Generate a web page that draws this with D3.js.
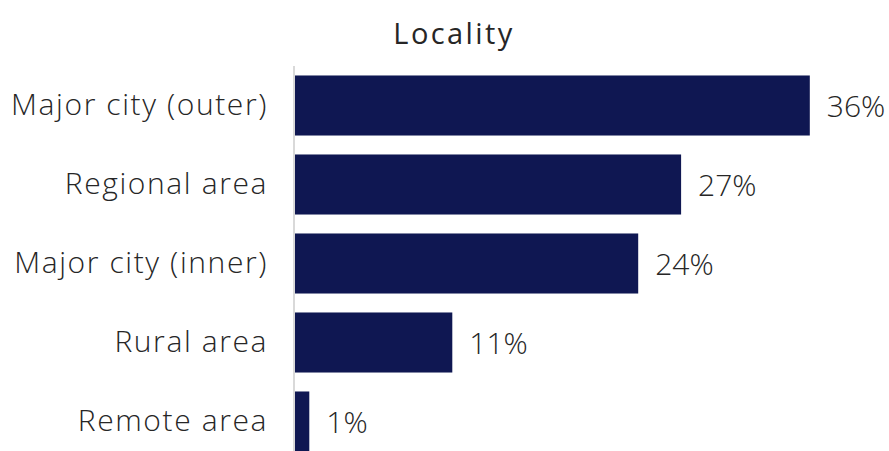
<!DOCTYPE html>
<html>
<head>
<meta charset="utf-8">
<script src="https://cdn.jsdelivr.net/npm/d3@7"></script>
<style>
  html, body { margin: 0; padding: 0; background: #ffffff; }
  svg { display: block; }
  text { font-family: "Open Sans", Lato, sans-serif; fill: #262626; }
</style>
</head>
<body>
<svg id="chart" width="889" height="451"></svg>
<script>
// Share of respondents by locality (%)
const categories = ["Major city (outer)", "Regional area", "Major city (inner)", "Rural area", "Remote area"];
const values = [36, 27, 24, 11, 1];
const valueLabels = ["36%", "27%", "24%", "11%", "1%"];
const title = "Locality";

const width = 889, height = 451;
const margin = { top: 66, left: 295 };

const svg = d3.select("#chart");

const x = d3.scaleLinear()
  .domain([0, 40])
  .range([margin.left, margin.left + 572]);

const y = d3.scaleBand()
  .domain(categories)
  .range([margin.top, margin.top + 395])
  .paddingInner(0.24)
  .paddingOuter(0.12);

// Title
svg.append("text")
  .attr("x", 454)
  .attr("y", 32)
  .attr("text-anchor", "middle")
  .attr("dominant-baseline", "central")
  .style("font-size", "29px")
  .style("font-weight", 400)
  .style("letter-spacing", "2.4px")
  .text(title);

// Bars
svg.append("g")
  .selectAll("rect")
  .data(values)
  .join("rect")
  .attr("x", x(0))
  .attr("y", (d, i) => y(categories[i]))
  .attr("width", d => x(d) - x(0))
  .attr("height", y.bandwidth())
  .attr("fill", "#0f1752");

// Category axis (line only, labels drawn from the band scale)
const yAxis = svg.append("g")
  .attr("transform", `translate(${x(0) - 1},0)`)
  .call(d3.axisLeft(y).tickSize(0).tickPadding(26));
yAxis.select(".domain")
  .attr("stroke", "#d9d9d9")
  .attr("stroke-width", 2)
  .attr("d", `M0,${margin.top}V${height}`);
yAxis.selectAll(".tick text")
  .style("font-family", "'Open Sans', Lato, sans-serif")
  .style("font-size", "30px")
  .style("font-weight", 300)
  .style("letter-spacing", "1.6px")
  .attr("fill", "#262626");

// Value labels
svg.append("g")
  .selectAll("text")
  .data(values)
  .join("text")
  .attr("x", d => x(d) + 17)
  .attr("y", (d, i) => y(categories[i]) + y.bandwidth() / 2)
  .attr("dominant-baseline", "central")
  .style("font-size", "30px")
  .style("font-weight", 300)
  .text((d, i) => valueLabels[i]);
</script>
</body>
</html>
